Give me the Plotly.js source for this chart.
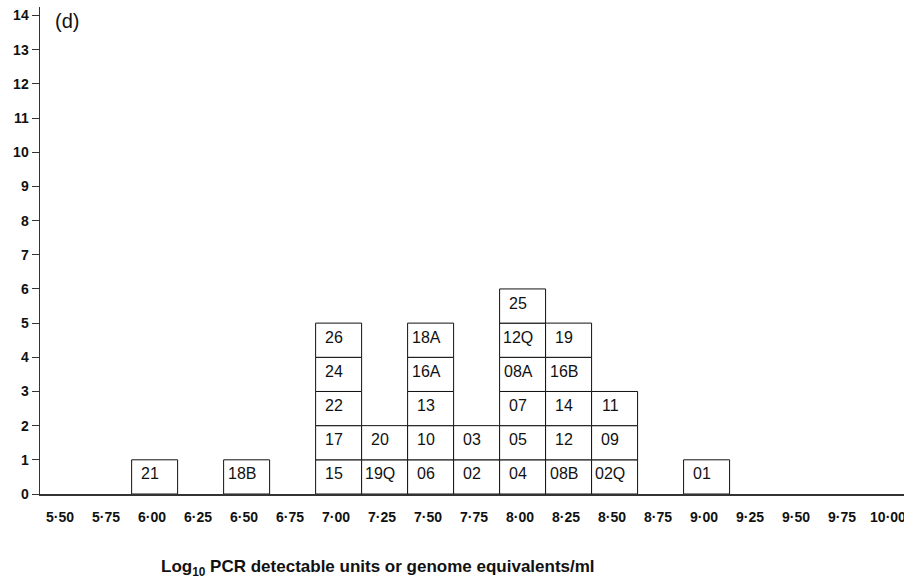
<!DOCTYPE html>
<html>
<head>
<meta charset="utf-8">
<script src="https://cdn.plot.ly/plotly-3.0.1.min.js"></script>
<style>html,body{margin:0;padding:0;background:#fff;}#chart{width:904px;height:581px;}</style>
</head>
<body>
<div id="chart"></div>
<script>
// Bin centres (log10 values) and the isolate labels stacked in each bin, bottom to top
const bins = [6.00, 6.50, 7.00, 7.25, 7.50, 7.75, 8.00, 8.25, 8.50, 9.00];
const stacks = [
  ['21'],
  ['18B'],
  ['15', '17', '22', '24', '26'],
  ['19Q', '20'],
  ['06', '10', '13', '16A', '18A'],
  ['02', '03'],
  ['04', '05', '07', '08A', '12Q', '25'],
  ['08B', '12', '14', '16B', '19'],
  ['02Q', '09', '11'],
  ['01']
];
const xTickVals = [5.50, 5.75, 6.00, 6.25, 6.50, 6.75, 7.00, 7.25, 7.50, 7.75, 8.00, 8.25, 8.50, 8.75, 9.00, 9.25, 9.50, 9.75, 10.00];
const xTickText = ['5·50', '5·75', '6·00', '6·25', '6·50', '6·75', '7·00', '7·25', '7·50', '7·75', '8·00', '8·25', '8·50', '8·75', '9·00', '9·25', '9·50', '9·75', '10·00'];
const yTickVals = [0,1,2,3,4,5,6,7,8,9,10,11,12,13,14];

const xs = [], ys = [], bases = [], texts = [];
bins.forEach((b, i) => {
  stacks[i].forEach((lab, j) => {
    xs.push(b); ys.push(1); bases.push(j); texts.push(lab);
  });
});

const FONT = 'Liberation Sans, Arial, Helvetica, sans-serif';

const trace = {
  type: 'bar',
  x: xs, y: ys, base: bases,
  width: 0.25,
  offset: -0.111,
  marker: {color: '#ffffff', line: {color: '#111111', width: 1}},
  hoverinfo: 'none',
  showlegend: false
};

// box labels, placed at each box's centre through the axes
const boxLabels = xs.map((x, k) => ({
  text: texts[k], x: x, y: bases[k] + 0.5, xref: 'x', yref: 'y',
  xanchor: 'center', yanchor: 'middle', showarrow: false,
  xshift: -2, yshift: 3,
  font: {family: FONT, size: 16, color: '#111'}
}));

const layout = {
  width: 904, height: 581,
  margin: {l: 40, r: 0, t: 7, b: 87},
  paper_bgcolor: '#fff', plot_bgcolor: '#fff',
  barmode: 'overlay',
  font: {family: FONT, color: '#111'},
  xaxis: {
    range: [5.391, 10.087],
    tickmode: 'array', tickvals: xTickVals, ticktext: xTickText,
    ticks: '', showgrid: false, zeroline: false,
    showline: true, linecolor: '#333', linewidth: 1.5,
    tickfont: {family: FONT, size: 14, weight: 'bold', color: '#111'},
    ticklabelstandoff: 10,
    ticklabeloverflow: 'allow'
  },
  yaxis: {
    range: [0, 14.25],
    tickmode: 'array', tickvals: yTickVals,
    ticks: 'outside', ticklen: 7, tickcolor: '#333', tickwidth: 1,
    showgrid: false, zeroline: false,
    showline: true, linecolor: '#333', linewidth: 1.5,
    tickfont: {family: FONT, size: 14, weight: 'bold', color: '#111'}
  },
  annotations: [
    {text: '(d)', xref: 'paper', yref: 'paper', x: 0.031, y: 0.972,
     xanchor: 'center', yanchor: 'middle', showarrow: false,
     font: {family: FONT, size: 20, color: '#111'}},
    {text: 'Log<sub>10</sub> PCR detectable units or genome equivalents/ml',
     xref: 'paper', yref: 'paper', x: 0.391, y: -0.152,
     xanchor: 'center', yanchor: 'middle', showarrow: false,
     font: {family: FONT, size: 17, weight: 'bold', color: '#111'}}
  ].concat(boxLabels)
};

Plotly.newPlot('chart', [trace], layout, {displayModeBar: false, staticPlot: true});
</script>
</body>
</html>
